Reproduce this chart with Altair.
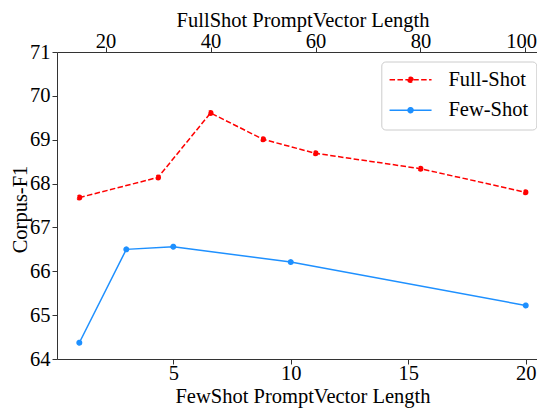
import altair as alt
import pandas as pd

# ---- data ----
series_names = ["Full-Shot", "Few-Shot"]
series_colors = ["#FF0000", "#1E90FF"]

few_x = [1, 3, 5, 10, 20]
few_y = [64.37, 66.50, 66.56, 66.21, 65.22]

full_x = [15, 30, 40, 50, 60, 80, 100]
full_y = [67.68, 68.14, 69.61, 69.01, 68.69, 68.34, 67.80]

y_ticks = [64, 65, 66, 67, 68, 69, 70, 71]
few_ticks = [5, 10, 15, 20]
full_ticks = [20, 40, 60, 80, 100]

few_df = pd.DataFrame({"x": few_x, "y": few_y, "series": "Few-Shot"})
full_df = pd.DataFrame({"x": full_x, "y": full_y, "series": "Full-Shot"})

FONT = "Liberation Serif"
FS = 20.5
AX = "#333333"

# legend glyph: a line with a dot on it (unit = 9 px, symbol centre 10 px from left)
legend_path = ("M-1.111,0L3.556,0M0.944,0A0.278,0.278,0,1,0,1.5,0"
               "A0.278,0.278,0,1,0,0.944,0Z")


def make_legend():
    return alt.Legend(
        orient="none", legendX=324.3, legendY=9.5,
        symbolType=legend_path, symbolSize=324, symbolStrokeWidth=1.5,
        labelFont=FONT, labelFontSize=FS, labelColor="black",
        labelOffset=38.6, rowPadding=9.4, padding=8,
        strokeColor="#cccccc", fillColor="white", cornerRadius=4,
    )


y_enc = alt.Y(
    "y:Q",
    scale=alt.Scale(domain=[64, 71], nice=False, zero=False),
    axis=alt.Axis(
        values=y_ticks, title="Corpus-F1", grid=False,
        labelFont=FONT, labelFontSize=FS, labelColor="black",
        labelPadding=2, tickSize=5, tickColor=AX, domainColor=AX,
        titleFont=FONT, titleFontSize=FS, titleFontWeight="normal",
        titleColor="black", titleAngle=270, titleAlign="center",
        titleBaseline="alphabetic", titleX=-30.5, titleY=157,
    ),
)

color_enc = alt.Color(
    "series:N", title=None,
    scale=alt.Scale(domain=series_names, range=series_colors),
    legend=make_legend(),
)
stroke_enc = alt.Stroke(
    "series:N", title=None,
    scale=alt.Scale(domain=series_names, range=series_colors),
    legend=make_legend(),
)
dash_enc = alt.StrokeDash(
    "series:N", title=None,
    scale=alt.Scale(domain=series_names, range=[[5.5, 2.4], [1, 0]]),
    legend=make_legend(),
)

# ---- few-shot (bottom axis) ----
few_x_enc = alt.X(
    "x:Q",
    scale=alt.Scale(domain=[0.05, 20.48], nice=False, zero=False),
    axis=alt.Axis(
        orient="bottom", values=few_ticks, title="FewShot PromptVector Length",
        grid=False, labelFont=FONT, labelFontSize=FS, labelColor="black",
        labelBaseline="alphabetic", labelPadding=15.5, tickSize=5,
        tickColor=AX, domainColor=AX,
        titleFont=FONT, titleFontSize=FS, titleFontWeight="normal",
        titleColor="black", titleAlign="center", titleBaseline="alphabetic",
        titleX=245.5, titleY=43,
    ),
)
few_line = alt.Chart(few_df).mark_line(color="#1E90FF", strokeWidth=1.5).encode(
    x=few_x_enc, y=y_enc
)
few_pts = alt.Chart(few_df).mark_point(
    filled=True, size=20, strokeWidth=1.5, opacity=1
).encode(x=few_x_enc, y=y_enc, color=color_enc, stroke=stroke_enc, strokeDash=dash_enc)
few_layer = alt.layer(few_line, few_pts)

# ---- full-shot (top axis) ----
full_x_enc = alt.X(
    "x:Q",
    scale=alt.Scale(domain=[10.75, 102.2], nice=False, zero=False),
    axis=alt.Axis(
        orient="top", values=full_ticks, title="FullShot PromptVector Length",
        grid=False, labelFont=FONT, labelFontSize=FS, labelColor="black",
        labelBaseline="alphabetic", labelPadding=-0.5, tickSize=5,
        labelFlush=15, labelFlushOffset=11,
        tickColor=AX, domainColor=AX,
        titleFont=FONT, titleFontSize=FS, titleFontWeight="normal",
        titleColor="black", titleAlign="center", titleBaseline="alphabetic",
        titleX=245.5, titleY=-26,
    ),
)
full_line = alt.Chart(full_df).mark_line(
    color="#FF0000", strokeWidth=1.5, strokeDash=[5.5, 2.4]
).encode(x=full_x_enc, y=y_enc)
full_pts = alt.Chart(full_df).mark_point(
    filled=True, size=20, strokeWidth=1.5, opacity=1
).encode(x=full_x_enc, y=y_enc, color=color_enc, stroke=stroke_enc, strokeDash=dash_enc)
full_layer = alt.layer(full_line, full_pts)

chart = (
    alt.layer(few_layer, full_layer)
    .resolve_scale(x="independent")
    .properties(
        width=480, height=307, autosize="none",
        padding={"left": 49, "top": 44, "right": 0, "bottom": 50},
    )
    .configure_view(stroke="transparent")
    .configure_axis(domainWidth=1, tickWidth=1)
)

chart.save("out.html", embed_options={"renderer": "svg", "actions": False})
